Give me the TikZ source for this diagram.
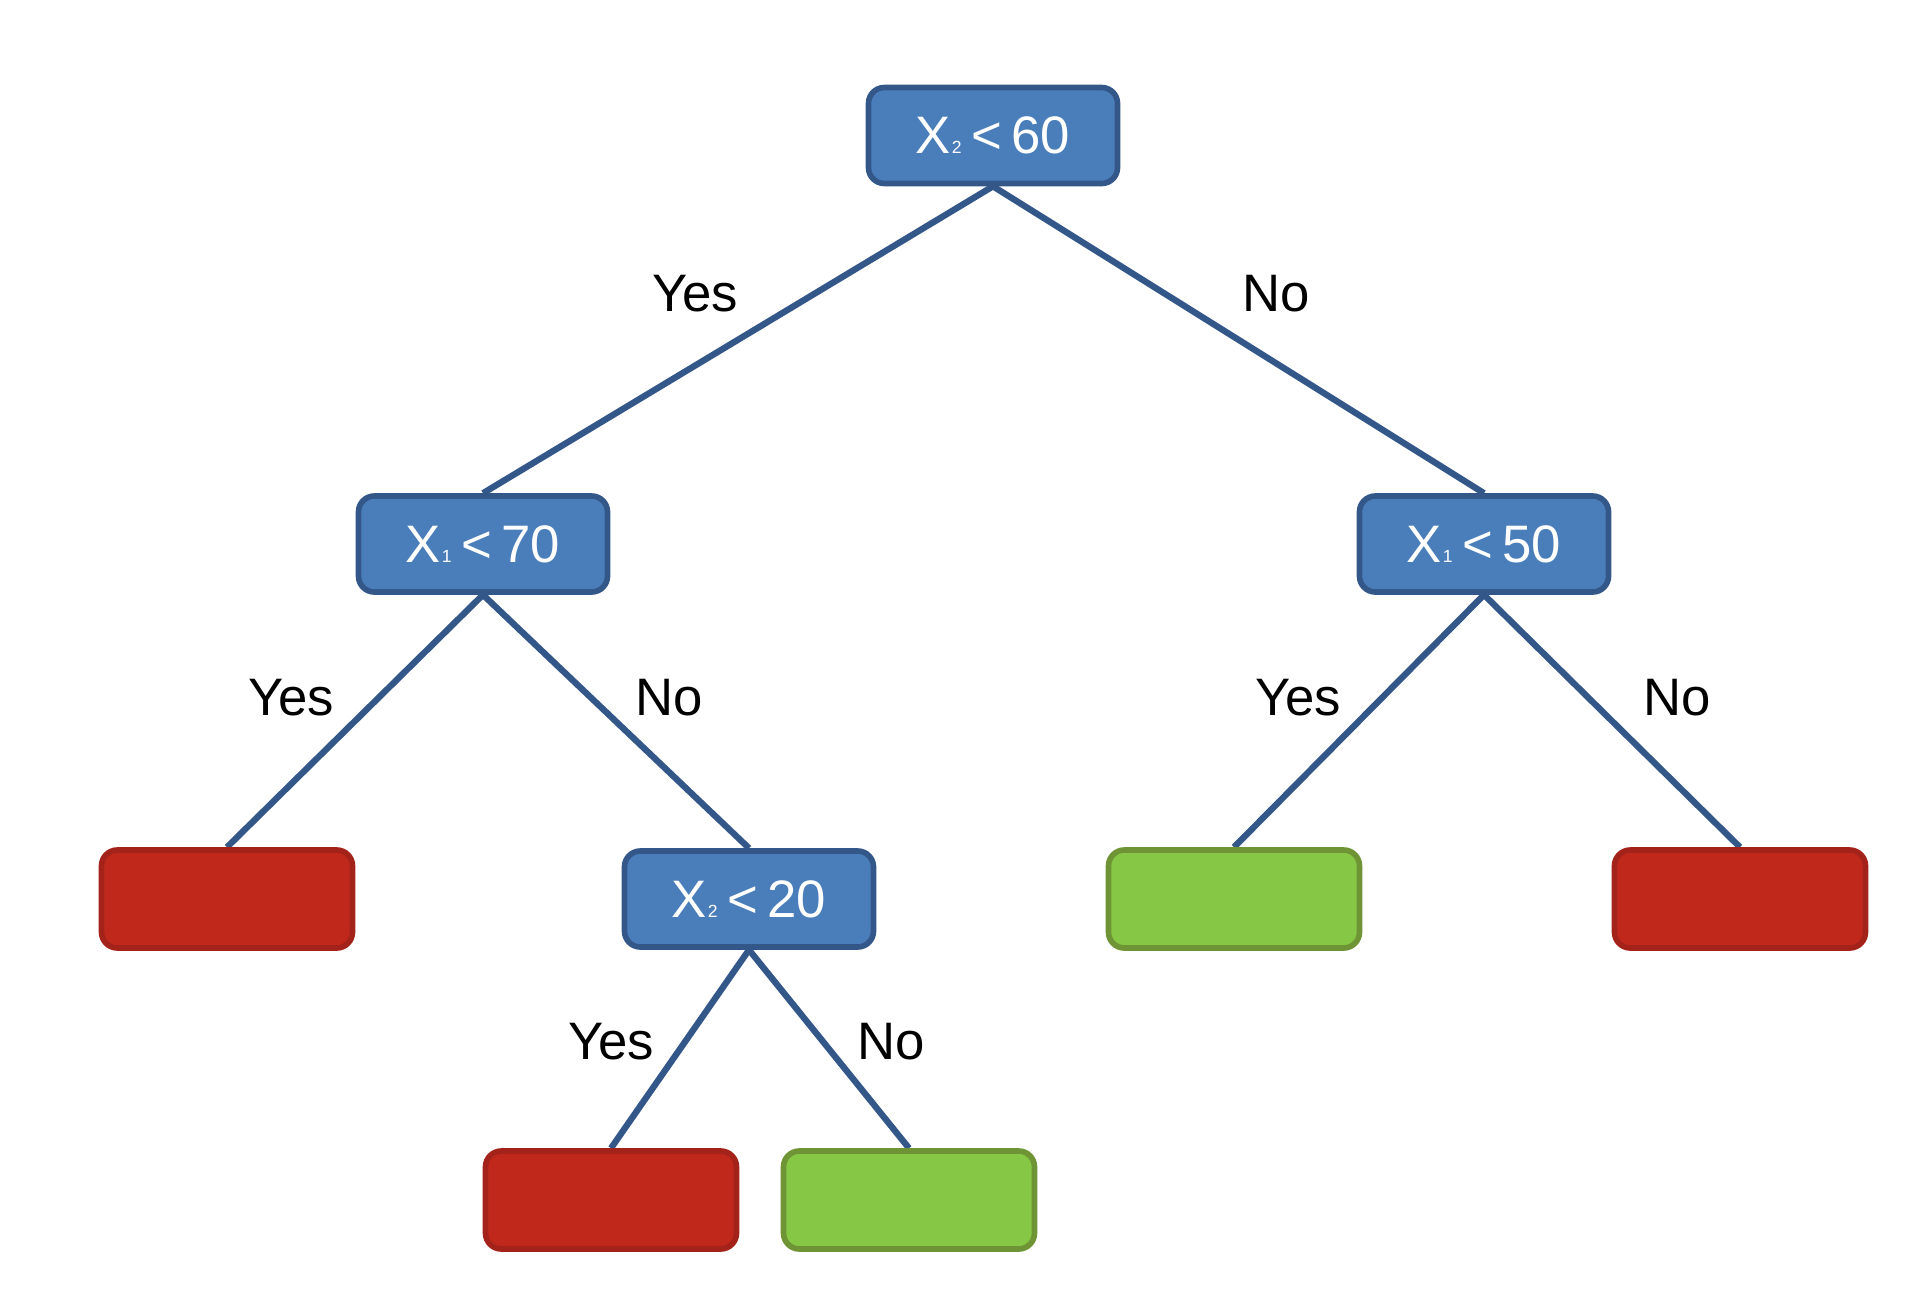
\documentclass[tikz,border=0pt]{standalone}
\usepackage{fontspec}
\setmainfont{Liberation Sans}
\usetikzlibrary{backgrounds}
\definecolor{nodeblue}{HTML}{4A7EBB}
\definecolor{nodeline}{HTML}{34578A}
\definecolor{leafred}{HTML}{C0281C}
\definecolor{leafredline}{HTML}{A3231A}
\definecolor{leafgreen}{HTML}{86C846}
\definecolor{leafgreenline}{HTML}{6F9436}
\newcommand{\Xvar}[1]{X\kern0.5pt{\fontsize{10}{10}\selectfont #1}}
\newcommand{\lessthan}{\kern5.5pt<\kern5.5pt}

\begin{document}
\begin{tikzpicture}[
      test/.style={rectangle, rounded corners=9pt, draw=nodeline, fill=nodeblue, line width=3.2pt,
                   minimum width=4.98cm, minimum height=1.92cm, text=white, font=\fontsize{30}{36}\selectfont},
      leaf/.style={rectangle, rounded corners=9pt, line width=3.2pt,
                   minimum width=5.02cm, minimum height=1.96cm},
      redleaf/.style={leaf, fill=leafred, draw=leafredline},
      greenleaf/.style={leaf, fill=leafgreen, draw=leafgreenline},
      branch/.style={line width=3.6pt, nodeline},
      answer/.style={font=\fontsize{30}{36}\selectfont}
    ]
      \useasboundingbox (0,0) rectangle (38.12,-25.8);
      % splits
      \node[test] (root) at (19.86,-2.71) {\Xvar{2}\lessthan60};
      \node[test] (xone) at (9.66,-10.88) {\Xvar{1}\lessthan70};
      \node[test] (xtwo) at (29.68,-10.88) {\Xvar{1}\lessthan50};
      \node[test] (xlow) at (14.98,-17.98) {\Xvar{2}\lessthan20};
      % leaves
      \node[redleaf] (leafa) at (4.54,-17.98) {};
      \node[greenleaf] (leafb) at (24.68,-17.98) {};
      \node[redleaf] (leafc) at (34.80,-17.98) {};
      \node[redleaf] (leafd) at (12.22,-24.00) {};
      \node[greenleaf] (leafe) at (18.18,-24.00) {};
      % answers
      \node[answer] (ya) at (13.90,-5.88) {Yes};
      \node[answer] (na) at (25.52,-5.88) {No};
      \node[answer] (yb) at (5.82,-13.96) {Yes};
      \node[answer] (nb) at (13.38,-13.96) {No};
      \node[answer] (yc) at (25.96,-13.96) {Yes};
      \node[answer] (nc) at (33.54,-13.96) {No};
      \node[answer] (yd) at (12.22,-20.84) {Yes};
      \node[answer] (nd) at (17.82,-20.84) {No};
      \begin{scope}[on background layer]
        \draw[branch] (root.south) -- (xone.north);
        \draw[branch] (root.south) -- (xtwo.north);
        \draw[branch] (xone.south) -- (leafa.north);
        \draw[branch] (xone.south) -- (xlow.north);
        \draw[branch] (xtwo.south) -- (leafb.north);
        \draw[branch] (xtwo.south) -- (leafc.north);
        \draw[branch] (xlow.south) -- (leafd.north);
        \draw[branch] (xlow.south) -- (leafe.north);
      \end{scope}
    \end{tikzpicture}
\end{document}
